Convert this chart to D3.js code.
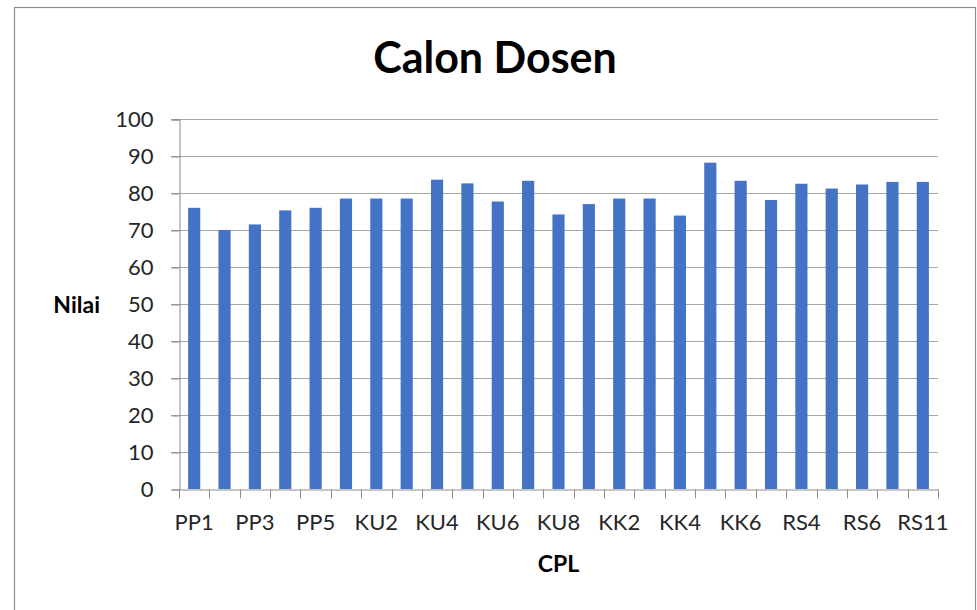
<!DOCTYPE html>
<html>
<head>
<meta charset="utf-8">
<script src="https://cdn.jsdelivr.net/npm/d3@7"></script>
<style>
body { margin: 0; background: #fff; }
text { font-family: Lato, "Open Sans", sans-serif; }
</style>
</head>
<body>
<svg id="chart"></svg>
<script>
// CPL categories and their scores
var categories = ['PP1', 'PP2', 'PP3', 'PP4', 'PP5',
	'KU1', 'KU2', 'KU3', 'KU4', 'KU5', 'KU6', 'KU7', 'KU8',
	'KK1', 'KK2', 'KK3', 'KK4', 'KK5', 'KK6',
	'RS3', 'RS4', 'RS5', 'RS6', 'RS10', 'RS11'];
var values = [76.0, 70.0, 71.5, 75.3, 76.0,
	78.5, 78.5, 78.5, 83.6, 82.6, 77.7, 83.3, 74.2,
	77.0, 78.5, 78.5, 73.9, 88.2, 83.3,
	78.1, 82.5, 81.2, 82.3, 83.0, 83.0];
var yTicks = [0, 10, 20, 30, 40, 50, 60, 70, 80, 90, 100];

var dims = {
	width: 977,
	height: 610,
	left: 179,
	right: 938,
	top: 119,
	bottom: 489
};

var svg = d3.select('#chart')
	.attr('width', dims.width)
	.attr('height', dims.height);

// chart frame
svg.append('rect')
	.attr('x', 14.5)
	.attr('y', 7.5)
	.attr('width', 961)
	.attr('height', 620)
	.attr('fill', 'white')
	.attr('stroke', '#8c8c8c')
	.attr('stroke-width', 1.2);

var x = d3.scaleBand()
	.domain(categories)
	.range([dims.left, dims.right])
	.paddingInner(0.6)
	.paddingOuter(0.3);

var y = d3.scaleLinear()
	.domain([0, 100])
	.range([dims.bottom, dims.top]);

// gridlines
svg.append('g')
	.selectAll('line')
	.data(yTicks.filter(d => d > 0))
	.enter()
	.append('line')
		.attr('x1', dims.left - 8)
		.attr('x2', dims.right)
		.attr('y1', d => y(d) + 0.5)
		.attr('y2', d => y(d) + 0.5)
		.attr('stroke', '#a6a6a6')
		.attr('stroke-width', 1);

// y axis
var yAxis = svg.append('g')
	.attr('transform', 'translate(' + (dims.left + 0.5) + ',0.5)')
	.call(d3.axisLeft(y).tickValues(yTicks).tickSize(8).tickPadding(18));
yAxis.select('.domain').attr('stroke', '#8c8c8c');
yAxis.selectAll('.tick line').attr('stroke', '#8c8c8c');
yAxis.selectAll('.tick text')
	.attr('font-size', 22)
	.attr('font-family', 'Lato, sans-serif')
	.attr('fill', '#262626');

// bars
svg.append('g')
	.selectAll('rect')
	.data(categories)
	.enter()
	.append('rect')
		.attr('x', d => x(d))
		.attr('y', (d, i) => y(values[i]))
		.attr('width', x.bandwidth())
		.attr('height', (d, i) => y(0) - y(values[i]))
		.attr('fill', '#4472c4');

// x axis
var xAxis = svg.append('g')
	.attr('transform', 'translate(0,' + (dims.bottom + 0.5) + ')')
	.call(d3.axisBottom(x).tickSize(0).tickPadding(25)
		.tickFormat((d, i) => i % 2 == 0 ? d : ''));
xAxis.select('.domain').attr('stroke', '#8c8c8c');
xAxis.selectAll('.tick text')
	.attr('font-size', 22)
	.attr('font-family', 'Lato, sans-serif')
	.attr('fill', '#262626');

// category boundary ticks
var edges = categories.map(d => x(d) - x.step() * x.paddingInner() / 2).concat([dims.right]);
xAxis.selectAll('.edge')
	.data(edges)
	.enter()
	.append('line')
		.attr('class', 'edge')
		.attr('x1', d => Math.round(d) + 0.5)
		.attr('x2', d => Math.round(d) + 0.5)
		.attr('y1', 0)
		.attr('y2', 9)
		.attr('stroke', '#8c8c8c');

// title and axis titles
svg.append('text')
	.attr('x', 495)
	.attr('y', 73)
	.attr('text-anchor', 'middle')
	.attr('font-size', 43)
	.attr('font-weight', 'bold')
	.attr('fill', '#000')
	.text('Calon Dosen');

svg.append('text')
	.attr('x', 100)
	.attr('y', 313)
	.attr('text-anchor', 'end')
	.attr('font-size', 23)
	.attr('font-weight', 'bold')
	.attr('fill', '#000')
	.text('Nilai');

svg.append('text')
	.attr('x', (dims.left + dims.right) / 2)
	.attr('y', 572)
	.attr('text-anchor', 'middle')
	.attr('font-size', 23)
	.attr('font-weight', 'bold')
	.attr('fill', '#000')
	.text('CPL');
</script>
</body>
</html>
